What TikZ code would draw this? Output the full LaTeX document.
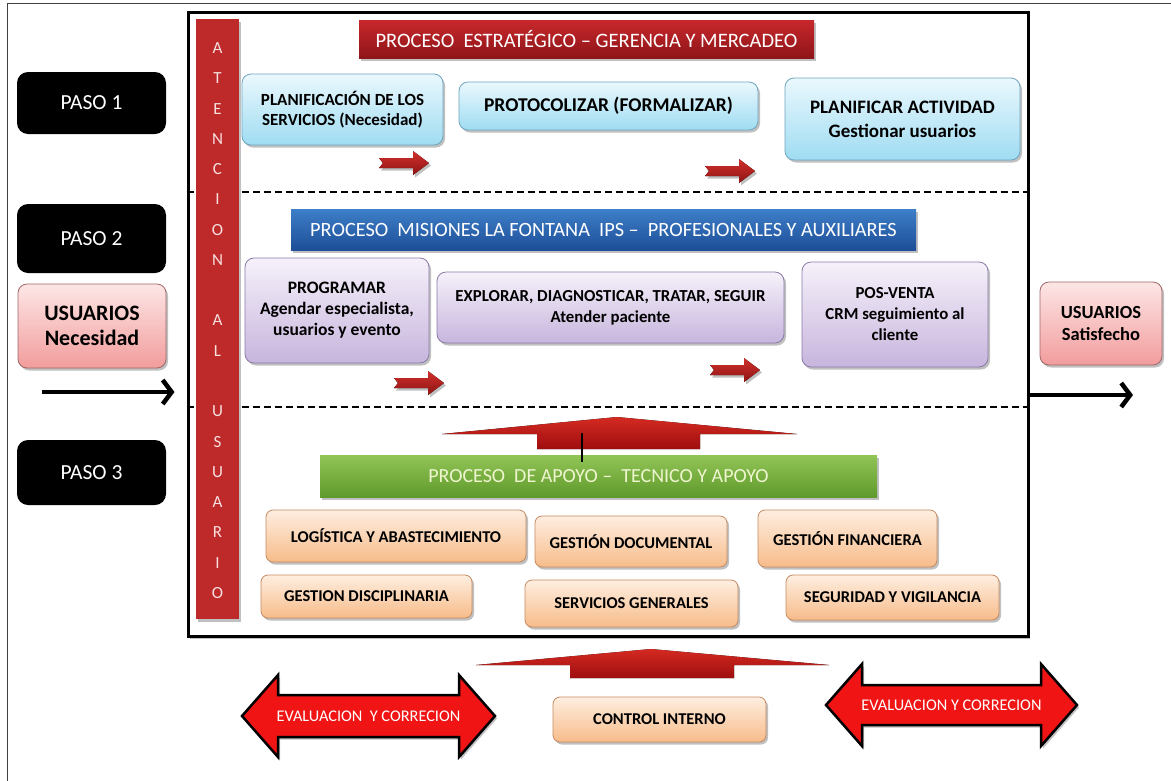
\documentclass[tikz,border=0pt]{standalone}
\usepackage{fontspec}
\setmainfont{Carlito}
\usetikzlibrary{shadows,arrows.meta,calc}
\newcommand\fz[2]{\fontsize{#1pt}{#2pt}\selectfont}
\definecolor{cyT}{HTML}{EAF8FD}
\definecolor{cyB}{HTML}{9FDCF2}
\definecolor{cyD}{HTML}{6FA6BF}
\definecolor{puT}{HTML}{F6F1FA}
\definecolor{puB}{HTML}{C7B5DD}
\definecolor{puD}{HTML}{8A7AA6}
\definecolor{orT}{HTML}{FEEEE0}
\definecolor{orB}{HTML}{F7BC8A}
\definecolor{orD}{HTML}{C48A62}
\definecolor{pkT}{HTML}{FDE6E6}
\definecolor{pkB}{HTML}{F29C9C}
\definecolor{pkD}{HTML}{A06868}
\definecolor{rbT}{HTML}{C8282C}
\definecolor{rbB}{HTML}{8E1518}
\definecolor{blT}{HTML}{3D7FC8}
\definecolor{blB}{HTML}{1E4E98}
\definecolor{grT}{HTML}{92C456}
\definecolor{grB}{HTML}{5F9A2C}
\definecolor{grTx}{HTML}{EEF5CF}
\definecolor{atBar}{HTML}{BE2A2A}
\definecolor{atTx}{HTML}{F8E0E0}
\definecolor{evRed}{HTML}{F01414}
\definecolor{chT}{HTML}{D0302C}
\definecolor{chB}{HTML}{8E1414}
\definecolor{upT}{HTML}{D42A22}
\definecolor{upB}{HTML}{9E0E0E}
\tikzset{
  shad/.style={drop shadow={shadow xshift=2pt,shadow yshift=-2.5pt,opacity=0.35,fill=black!70}},
  rbox/.style={rounded corners=9pt, align=center, inner sep=2pt, text=black, shad, line width=0.8pt},
  cybox/.style={rbox, draw=cyD, top color=cyT, bottom color=cyB},
  pubox/.style={rbox, draw=puD, top color=puT, bottom color=puB},
  orbox/.style={rbox, rounded corners=7pt, draw=orD, top color=orT, bottom color=orB, font=\bfseries\fz{16.5}{19}},
  pkbox/.style={rbox, draw=pkD, top color=pkT, bottom color=pkB},
  pasobox/.style={rounded corners=11pt, fill=black, text=white, align=center, minimum width=149pt, font=\fz{21.5}{24}},
  hbar/.style={inner sep=0pt, text=white, shad, font=\fz{20.3}{23}},
  dline/.style={line width=2pt, dash pattern=on 7pt off 4pt},
  bigarrow/.style={line width=4.5pt, -{Straight Barb[length=9pt,width=24pt]}},
  evarrow/.style={line width=2.5pt, draw=black, fill=evRed, line join=miter, shad},
  uparrow/.style={top color=upT, bottom color=upB},
  chev/.pic={\fill[top color=chT, bottom color=chB, shad] (-25,-5) -- (9,-5) -- (9,-12) -- (25,0) -- (9,12) -- (9,5) -- (-25,5) -- (-21,0) -- cycle;},
  evtext/.style={text=white, font=\fz{16.3}{19}, inner sep=0pt}
}
\begin{document}
\begin{tikzpicture}[x=1pt,y=-1pt]
\useasboundingbox (0,0) rectangle (1171,780);
\fill[white] (0,0) rectangle (1171,780);
\draw[line width=1pt, black!75] (7,781) -- (7,3) -- (1172,3);

% left column
\node[pasobox, minimum height=62pt] (paso1) at (91.5,103) {PASO 1};
\node[pasobox, minimum height=69pt] (paso2) at (91.5,238.5) {PASO 2};
\node[pasobox, minimum height=65pt] (paso3) at (91.5,472.5) {PASO 3};
\node[pkbox, minimum width=148pt, minimum height=84pt, font=\bfseries\fz{22}{25}] (usin) at (92,326) {USUARIOS\\Necesidad};

% main frame
\node[draw, line width=3pt, minimum width=840pt, minimum height=624pt, inner sep=0pt, fill=white, shad] (main) at (608,324) {};
\coordinate (d1) at (0,192);
\coordinate (d2) at (0,407);
\draw[dline] (main.west |- d1) -- (main.east |- d1);
\draw[dline] (main.west |- d2) -- (main.east |- d2);

% Atencion bar
\node[fill=atBar, minimum width=43pt, minimum height=600pt, inner sep=0pt, shad] (atbar) at (217.5,319) {};
\foreach \l/\k [count=\i] in {A/0,T/1,E/2,N/3,C/4,I/5,O/6,N/7,A/9,L/10,U/12,S/13,U/14,A/15,R/16,I/17,O/18}
  \node[text=atTx, font=\fz{17}{19}, inner sep=0pt] (at\i) at (217.5,{48+30.28*\k}) {\l};

% row 1
\node[hbar, top color=rbT, bottom color=rbB, minimum width=455pt, minimum height=38pt, font=\fz{20.5}{23}] (pe) at (586.5,39) {PROCESO\ \ ESTRATÉGICO – GERENCIA Y MERCADEO};
\node[cybox, minimum width=201pt, minimum height=71pt, font=\bfseries\fz{17}{20}] (plan) at (342.5,109.5) {PLANIFICACIÓN DE LOS\\SERVICIOS (Necesidad)};
\node[cybox, minimum width=299pt, minimum height=48pt, font=\bfseries\fz{19.5}{22}] (proto) at (608.5,106) {PROTOCOLIZAR (FORMALIZAR)};
\node[cybox, minimum width=235pt, minimum height=82pt, font=\bfseries\fz{19}{24}] (planact) at (902.5,119) {PLANIFICAR ACTIVIDAD\\Gestionar usuarios};
\pic at (404,163) {chev};
\pic at (730,171) {chev};

% row 2
\node[hbar, top color=blT, bottom color=blB, minimum width=625pt, minimum height=41pt] (mis) at (603.5,229.5) {PROCESO\ \ MISIONES LA FONTANA\ \ IPS –\ \ PROFESIONALES Y AUXILIARES};
\node[pubox, minimum width=184pt, minimum height=105pt, font=\bfseries\fz{17.5}{21}] (prog) at (337,310.5) {PROGRAMAR\\Agendar especialista,\\usuarios y evento};
\node[pubox, minimum width=347pt, minimum height=71pt, font=\bfseries\fz{16.8}{21}] (expl) at (610.5,307.5) {EXPLORAR, DIAGNOSTICAR, TRATAR, SEGUIR\\Atender paciente};
\node[pubox, minimum width=186pt, minimum height=105pt, font=\bfseries\fz{16.8}{21}] (pos) at (895,314.5) {POS-VENTA\\CRM seguimiento al\\cliente};
\pic at (419,383) {chev};
\pic at (735,370) {chev};

% row 3
\fill[uparrow] (442,434) -- (617,417) -- (797,434) -- (700,434) -- (700,449) -- (537,449) -- (537,434) -- cycle;
\node[hbar, top color=grT, bottom color=grB, text=grTx, minimum width=557pt, minimum height=42pt, font=\fz{20}{23}] (apoyo) at (598.5,476) {PROCESO\ \ DE APOYO –\ \ TECNICO Y APOYO};
\coordinate (tick) at (582,433);
\draw[line width=1.3pt] (tick) -- ($(tick |- apoyo.north)+(0,7)$);
\node[orbox, minimum width=260pt, minimum height=52pt] (log) at (396,536) {LOGÍSTICA Y ABASTECIMIENTO};
\node[orbox, minimum width=192pt, minimum height=51pt] (doc) at (631,541.5) {GESTIÓN DOCUMENTAL};
\node[orbox, minimum width=179pt, minimum height=57pt] (fin) at (847.5,538.5) {GESTIÓN FINANCIERA};
\node[orbox, minimum width=211pt, minimum height=43pt] (disc) at (366.5,596.5) {GESTION DISCIPLINARIA};
\node[orbox, minimum width=213pt, minimum height=47pt] (serv) at (631.5,603.5) {SERVICIOS GENERALES};
\node[orbox, minimum width=213pt, minimum height=45pt] (seg) at (892.5,597.5) {SEGURIDAD Y VIGILANCIA};

% right side
\node[pkbox, minimum width=122pt, minimum height=83pt, font=\bfseries\fz{18.5}{22}] (usout) at (1101,323.5) {USUARIOS\\Satisfecho};
\coordinate (inL) at (42,392);
\coordinate (outR) at (1133,395);
\draw[bigarrow] (inL) -- ($(main.west |- inL)+(-12,0)$);
\draw[bigarrow] (main.east |- outR) -- (outR);

% bottom
\fill[uparrow] (476,665) -- (651,649) -- (829,665) -- (734,665) -- (734,678) -- (570,678) -- (570,665) -- cycle;
\node[orbox, minimum width=213pt, minimum height=45pt] (ctrl) at (659.5,719.5) {CONTROL INTERNO};
\draw[evarrow] (242,716) -- (278,675) -- (278,695) -- (459,695) -- (459,675) -- (495,716) -- (459,757) -- (459,737) -- (278,737) -- (278,757) -- cycle;
\node[evtext] (evl) at (368.5,716) {EVALUACION\ \ Y CORRECION};
\draw[evarrow] (826,705) -- (862,664) -- (862,685) -- (1041,685) -- (1041,664) -- (1077,705) -- (1041,746) -- (1041,725) -- (862,725) -- (862,746) -- cycle;
\node[evtext] (evr) at (951.5,705) {EVALUACION Y CORRECION};
\end{tikzpicture}
\end{document}
